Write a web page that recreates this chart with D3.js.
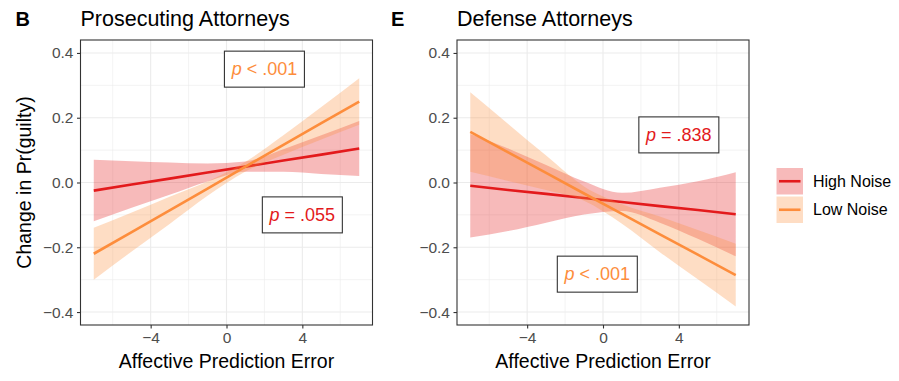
<!DOCTYPE html>
<html>
<head>
<meta charset="utf-8">
<script src="https://cdn.jsdelivr.net/npm/d3@7"></script>
<style>
  html, body { margin: 0; padding: 0; background: #ffffff; }
  svg { display: block; font-family: "Liberation Sans", Arial, Helvetica, sans-serif; }
</style>
</head>
<body>
<svg id="chart" width="899" height="381"></svg>
<script>
// ---------------- DATA ----------------
const xValues = [-7, -5, -3, -1, 1, 3, 5, 7];

// Panel B: Prosecuting Attorneys
const prosHighFit   = [-0.025, -0.006, 0.012, 0.031, 0.049, 0.068, 0.086, 0.105];
const prosHighLower = [-0.120, -0.078, -0.038, 0.003, 0.033, 0.033, 0.026, 0.020];
const prosHighUpper = [0.070, 0.066, 0.062, 0.059, 0.065, 0.103, 0.146, 0.190];
const prosLowFit    = [-0.220, -0.153, -0.086, -0.019, 0.049, 0.116, 0.183, 0.250];
const prosLowLower  = [-0.300, -0.213, -0.128, -0.041, 0.034, 0.086, 0.133, 0.178];
const prosLowUpper  = [-0.140, -0.093, -0.044, 0.003, 0.064, 0.146, 0.233, 0.322];

// Panel E: Defense Attorneys
const defHighFit    = [-0.010, -0.023, -0.035, -0.048, -0.060, -0.073, -0.085, -0.098];
const defHighLower  = [-0.170, -0.150, -0.124, -0.099, -0.088, -0.124, -0.174, -0.228];
const defHighUpper  = [0.150, 0.105, 0.054, 0.003, -0.032, -0.016, 0.004, 0.032];
const defLowFit     = [0.156, 0.093, 0.030, -0.034, -0.097, -0.160, -0.223, -0.286];
const defLowLower   = [0.033, 0.005, -0.023, -0.056, -0.127, -0.215, -0.299, -0.383];
const defLowUpper   = [0.279, 0.181, 0.083, -0.012, -0.067, -0.105, -0.147, -0.189];

const xTicks = [-4, 0, 4];
const xMinorTicks = [-6, -2, 2, 6];
const yTicks = [-0.4, -0.2, 0.0, 0.2, 0.4];
const yMinorTicks = [-0.3, -0.1, 0.1, 0.3];

const seriesNames = ["High Noise", "Low Noise"];
const seriesColors = ["#e31a1c", "#fd8d3c"];

const panelTags = ["B", "E"];
const panelTitles = ["Prosecuting Attorneys", "Defense Attorneys"];
const xTitle = "Affective Prediction Error";
const yTitle = "Change in Pr(guilty)";

// annotation labels
const annPanel = [0, 0, 1, 1];
const annX     = [2, 4, 4, -0.3];
const annY     = [0.35, -0.10, 0.147, -0.283];
const annRel   = ["<", "=", "=", "<"];
const annVal   = [".001", ".055", ".838", ".001"];
const annSeries= [1, 0, 0, 1];

// ---------------- LAYOUT ----------------
const svg = d3.select("#chart");
const panelLefts = [80.5, 457];
const panelWidth = 292;
const plotTop = 40, plotBottom = 325;

const y = d3.scaleLinear().domain([-0.44, 0.44]).range([plotBottom, plotTop]);

const panelData = [
  { high: [prosHighFit, prosHighLower, prosHighUpper], low: [prosLowFit, prosLowLower, prosLowUpper] },
  { high: [defHighFit, defHighLower, defHighUpper], low: [defLowFit, defLowLower, defLowUpper] }
];

panelData.forEach((pd, pi) => {
  const left = panelLefts[pi];
  const x = d3.scaleLinear().domain([-7.7, 7.7]).range([left, left + panelWidth]);
  const g = svg.append("g");

  // grid
  g.selectAll(".xminor").data(xMinorTicks).enter().append("line")
    .attr("x1", d => x(d)).attr("x2", d => x(d)).attr("y1", plotTop).attr("y2", plotBottom)
    .attr("stroke", "#ebebeb").attr("stroke-width", 0.6);
  g.selectAll(".yminor").data(yMinorTicks).enter().append("line")
    .attr("y1", d => y(d)).attr("y2", d => y(d)).attr("x1", left).attr("x2", left + panelWidth)
    .attr("stroke", "#ebebeb").attr("stroke-width", 0.6);
  g.selectAll(".xmajor").data(xTicks).enter().append("line")
    .attr("x1", d => x(d)).attr("x2", d => x(d)).attr("y1", plotTop).attr("y2", plotBottom)
    .attr("stroke", "#ebebeb").attr("stroke-width", 1.1);
  g.selectAll(".ymajor").data(yTicks).enter().append("line")
    .attr("y1", d => y(d)).attr("y2", d => y(d)).attr("x1", left).attr("x2", left + panelWidth)
    .attr("stroke", "#ebebeb").attr("stroke-width", 1.1);

  const area = d3.area()
    .x((d, i) => x(xValues[i]))
    .y0(d => y(d[0]))
    .y1(d => y(d[1]))
    .curve(d3.curveMonotoneX);
  const line = d3.line()
    .x((d, i) => x(xValues[i]))
    .y(d => y(d));

  [pd.high, pd.low].forEach((s, si) => {
    const band = s[1].map((lo, i) => [lo, s[2][i]]);
    g.append("path").attr("d", area(band))
      .attr("fill", seriesColors[si]).attr("fill-opacity", 0.3);
    g.append("path").attr("d", line(s[0]))
      .attr("fill", "none").attr("stroke", seriesColors[si]).attr("stroke-width", 2.6);
  });

  // border
  g.append("rect").attr("x", left).attr("y", plotTop).attr("width", panelWidth).attr("height", plotBottom - plotTop)
    .attr("fill", "none").attr("stroke", "#333333").attr("stroke-width", 1.1);

  // axes
  const xAxis = d3.axisBottom(x).tickValues(xTicks).tickSize(3.5).tickPadding(3)
    .tickFormat(d => d < 0 ? "\u2212" + Math.abs(d) : d);
  const xa = g.append("g").attr("transform", `translate(0,${plotBottom})`).call(xAxis);
  const yAxis = d3.axisLeft(y).tickValues(yTicks).tickSize(3.5).tickPadding(3.5)
    .tickFormat(d => (d < 0 ? "\u2212" : "") + Math.abs(d).toFixed(1));
  const ya = g.append("g").attr("transform", `translate(${left},0)`).call(yAxis);
  [xa, ya].forEach(a => {
    a.select(".domain").remove();
    a.selectAll(".tick line").attr("stroke", "#333333").attr("stroke-width", 1.1);
    a.selectAll(".tick text").attr("fill", "#4d4d4d").style("font-size", "15.5px")
      .style("font-family", '"Liberation Sans", Arial, sans-serif');
  });

  // x title
  g.append("text").attr("x", left + panelWidth / 2).attr("y", 368)
    .attr("text-anchor", "middle").style("font-size", "19.5px").attr("fill", "#000")
    .text(xTitle);

  // tag & title
  g.append("text").attr("x", pi === 0 ? 15.5 : 391).attr("y", 26)
    .style("font-size", "20px").style("font-weight", "bold").attr("fill", "#000")
    .text(panelTags[pi]);
  g.append("text").attr("x", left).attr("y", 26)
    .style("font-size", "21.5px").attr("fill", "#000")
    .text(panelTitles[pi]);

  // annotations
  annPanel.forEach((p, ai) => {
    if (p !== pi) return;
    const ag = g.append("g");
    ag.append("rect")
      .attr("x", x(annX[ai]) - 40).attr("y", y(annY[ai]) - 18)
      .attr("width", 80).attr("height", 36)
      .attr("fill", "#ffffff").attr("stroke", "#333333").attr("stroke-width", 1.1);
    const t = ag.append("text").attr("x", x(annX[ai])).attr("y", y(annY[ai]))
      .attr("text-anchor", "middle").attr("dominant-baseline", "central")
      .style("font-size", "18px").attr("fill", seriesColors[annSeries[ai]]);
    t.append("tspan").style("font-style", "italic").text("p");
    t.append("tspan").text(" " + annRel[ai] + " " + annVal[ai]);
  });
});

// y title
svg.append("text")
  .attr("transform", `translate(31,${(plotTop + plotBottom) / 2}) rotate(-90)`)
  .attr("text-anchor", "middle").style("font-size", "19.5px").attr("fill", "#000")
  .text(yTitle);

// legend
const legend = svg.append("g");
seriesNames.forEach((name, i) => {
  const ky = 168 + i * 28.5;
  legend.append("rect").attr("x", 776.5).attr("y", ky).attr("width", 26.5).attr("height", 26.5)
    .attr("fill", seriesColors[i]).attr("fill-opacity", 0.3);
  legend.append("line").attr("x1", 779).attr("x2", 800.5).attr("y1", ky + 13.25).attr("y2", ky + 13.25)
    .attr("stroke", seriesColors[i]).attr("stroke-width", 2.6);
  legend.append("text").attr("x", 813).attr("y", ky + 13.25).attr("dominant-baseline", "central")
    .style("font-size", "16px").attr("fill", "#000").text(name);
});
</script>
</body>
</html>
